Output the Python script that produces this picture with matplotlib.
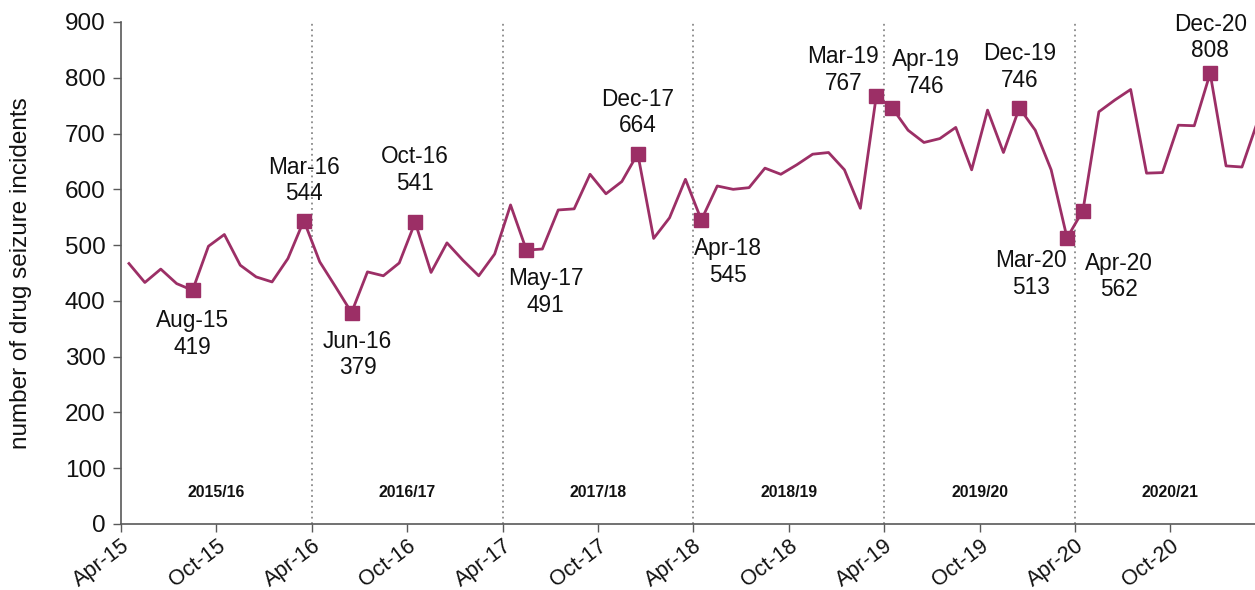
import matplotlib
matplotlib.use("Agg")
import matplotlib.pyplot as plt
import numpy as np

plt.rcParams['font.family'] = ['Liberation Sans', 'DejaVu Sans']

# Monthly drug seizure incidents, Apr-15 .. Mar-21
months = ["Apr", "May", "Jun", "Jul", "Aug", "Sep", "Oct", "Nov", "Dec", "Jan", "Feb", "Mar"]
values = [
    467, 433, 457, 431, 419, 498, 519, 464, 443, 434, 476, 544,   # 2015/16
    470, 425, 379, 452, 445, 468, 541, 451, 504, 473, 445, 484,   # 2016/17
    572, 491, 493, 563, 565, 627, 592, 614, 664, 512, 549, 618,   # 2017/18
    545, 606, 600, 603, 638, 627, 644, 663, 666, 635, 566, 767,   # 2018/19
    746, 706, 684, 691, 711, 635, 742, 666, 746, 706, 635, 513,   # 2019/20
    562, 739, 760, 779, 629, 630, 715, 714, 808, 642, 640, 723,   # 2020/21
]
fin_years = ["2015/16", "2016/17", "2017/18", "2018/19", "2019/20", "2020/21"]
tick_labels = ["Apr-15", "Oct-15", "Apr-16", "Oct-16", "Apr-17", "Oct-17",
               "Apr-18", "Oct-18", "Apr-19", "Oct-19", "Apr-20", "Oct-20"]

# highlighted points: (index, label offset in pixels)
highlights = [
    (4, (0, -44)), (11, (0, 40)), (14, (6, -42)), (18, (0, 52)),
    (25, (19, -42)), (32, (0, 41)), (36, (27, -42)), (47, (-33, 26)),
    (48, (34, 35)), (56, (0, 41)), (59, (-36, -36)), (60, (36, -66)),
    (68, (0, 36)),
]

def month_label(i):
    m = months[i % 12]
    yr = 15 + (i + 3) // 12
    return f"{m}-{yr:02d}"

color = "#9C2F66"
x = np.arange(len(values)) + 0.5

fig = plt.figure(figsize=(12.55, 5.9), dpi=100)
ax = fig.add_axes([121 / 1255, 66 / 590, 1 - 121 / 1255, (524 - 22) / 590])

for k in range(1, 6):
    ax.axvline(12 * k, color="#8a8a8a", linestyle=(0, (1, 2)), linewidth=1.3, zorder=1)

ax.plot(x, values, color=color, linewidth=2, zorder=3, clip_on=True)
hx = [x[i] for i, _ in highlights]
hy = [values[i] for i, _ in highlights]
ax.plot(hx, hy, linestyle="none", marker="s", markersize=10, color=color, zorder=4)

for i, off in highlights:
    ax.annotate(f"{month_label(i)}\n{values[i]}", (x[i], values[i]),
                xytext=off, textcoords="offset pixels",
                ha="center", va="center", fontsize=16.3, linespacing=1.2,
                color="#111111", zorder=5)

for k, fy in enumerate(fin_years):
    ax.text(12 * k + 6, 57, fy, ha="center", va="center", fontsize=11.3,
            fontweight="bold", color="#111111")

ax.set_xlim(0, (1255 - 121) / 15.9)
ax.set_ylim(0, 900)
ax.set_yticks(range(0, 901, 100))
ax.set_xticks(range(0, 67, 6))
ax.set_xticklabels(tick_labels, rotation=37, ha="right", rotation_mode="anchor")
ax.tick_params(axis="both", colors="#595959", labelcolor="#111111", length=6,
               width=1, direction="out")
ax.tick_params(axis="x", labelsize=15.5, pad=2)
ax.tick_params(axis="y", labelsize=17.5, pad=5)
for s in ["top", "right"]:
    ax.spines[s].set_visible(False)
for s in ["left", "bottom"]:
    ax.spines[s].set_color("#595959")
    ax.spines[s].set_linewidth(1.2)

ax.set_ylabel("number of drug seizure incidents", fontsize=17.5, color="#111111")
ax.yaxis.set_label_coords(-(121 - 32) / 1134, 0.5)

fig.savefig("out.png", dpi=100)
